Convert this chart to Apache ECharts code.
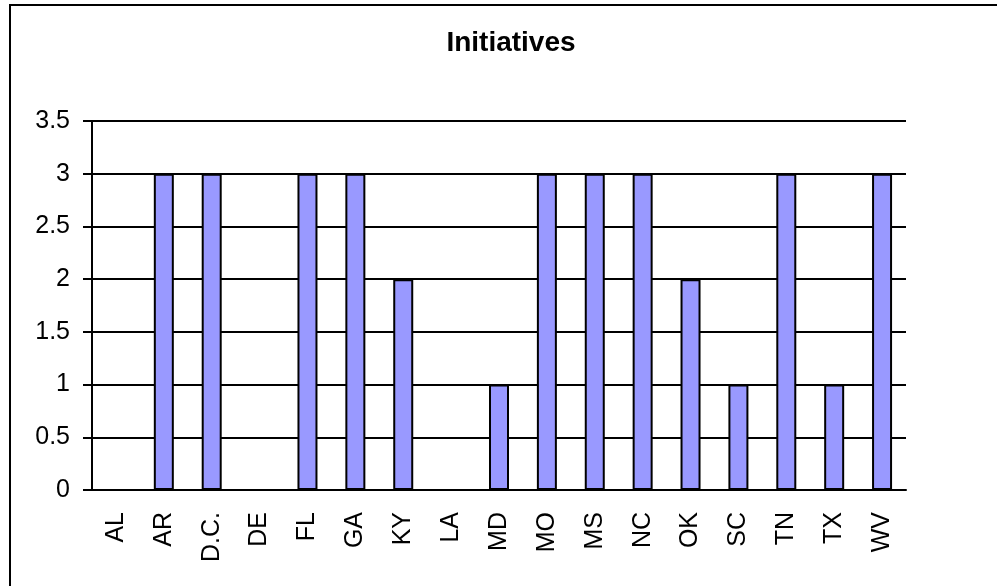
<!DOCTYPE html>
<html>
<head>
<meta charset="utf-8">
<script src="https://cdn.jsdelivr.net/npm/echarts@6/dist/echarts.min.js"></script>
<style>
  html, body { margin: 0; padding: 0; background: #fff; overflow: hidden; }
  #frame { position: absolute; left: 9px; top: 4px; width: 1200px; height: 800px; border: 2px solid #000; box-sizing: border-box; }
  #chart { position: absolute; left: 0; top: 0; width: 997px; height: 586px; }
</style>
</head>
<body>
<div id="frame"></div>
<div id="chart"></div>
<script>
// states on the x axis
const states = ['AL', 'AR', 'D.C.', 'DE', 'FL', 'GA', 'KY', 'LA', 'MD', 'MO', 'MS', 'NC', 'OK', 'SC', 'TN', 'TX', 'WV']
// number of initiatives per state
const initiatives = [0, 3, 3, 0, 3, 3, 2, 0, 1, 3, 3, 3, 2, 1, 3, 1, 3]

const font = '"Liberation Sans", Arial, sans-serif'
const chart = echarts.init(document.getElementById('chart'), null, { renderer: 'canvas' })

const option = {
  animation: false,
  backgroundColor: 'transparent',
  title: {
    text: 'Initiatives',
    left: 506,
    textAlign: 'center',
    top: 24,
    textStyle: { fontFamily: font, fontSize: 28, fontWeight: 'bold', color: '#000' }
  },
  grid: { left: 92, right: 91, top: 121, bottom: 96 },
  xAxis: {
    type: 'category',
    data: states,
    axisLine: { lineStyle: { color: '#000', width: 2 } },
    axisTick: { length: 8, lineStyle: { color: '#000', width: 2 } },
    axisLabel: {
      rotate: 90,
      interval: 0,
      margin: 22,
      fontFamily: font,
      fontSize: 25,
      color: '#000'
    }
  },
  yAxis: {
    type: 'value',
    min: 0,
    max: 3.5,
    interval: 0.5,
    axisLine: { show: true, lineStyle: { color: '#000', width: 2 } },
    axisTick: { show: true, length: 9, lineStyle: { color: '#000', width: 2 } },
    axisLabel: { margin: 22, fontFamily: font, fontSize: 25, color: '#000' },
    splitLine: { lineStyle: { color: '#000', width: 2 } }
  },
  series: [
    {
      type: 'bar',
      data: initiatives,
      barWidth: 20,
      itemStyle: { color: '#9999FF', borderColor: '#000', borderWidth: 2 }
    }
  ]
}

chart.setOption(option)
</script>
</body>
</html>
